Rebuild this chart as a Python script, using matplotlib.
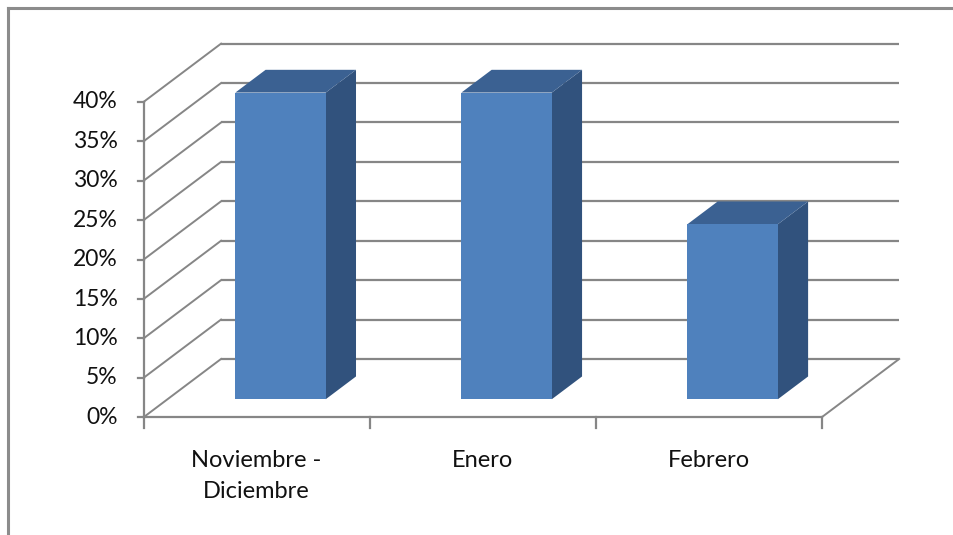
import matplotlib
matplotlib.use("Agg")
import matplotlib.pyplot as plt
from matplotlib.patches import Polygon

# data
categories = ["Noviembre -\nDiciembre", "Enero", "Febrero"]
values = [38.9, 38.9, 22.2]
y_ticks = [0, 5, 10, 15, 20, 25, 30, 35, 40]
y_labels = ["0%", "5%", "10%", "15%", "20%", "25%", "30%", "35%", "40%"]

# oblique 3d look: depth 0 = front plane, depth 1 = back wall
DX = 0.343   # x shift (category units) for full depth
DZ = 7.4     # y shift (percent units) for full depth
YMAX = 40

GRID = "#868686"
FRONT = "#4f81bd"
SIDE = "#31527d"
TOP = "#3b6192"
TEXT = "#111111"

plt.rcParams["font.family"] = ["Lato", "DejaVu Sans"]


def proj(x, z, d):
    return (x + d * DX, z + d * DZ)


fig = plt.figure(figsize=(9.54, 5.35), dpi=100)
ax = fig.add_axes([0, 0, 1, 1])
px_x = 226.05   # pixels per category
px_y = 7.883    # pixels per percent
x0, y0 = 143.5, 417.3
ax.set_xlim(-x0 / px_x, (954 - x0) / px_x)
ax.set_ylim(-(535 - y0) / px_y, y0 / px_y)
ax.axis("off")

n = len(categories)

# back wall gridlines and side wall diagonals
for t in y_ticks:
    xa, ya = proj(0, t, 1)
    xb, yb = proj(n, t, 1)
    ax.plot([xa, xb], [ya, yb], color=GRID, lw=1.6, solid_capstyle="butt")
    fx, fy = proj(0, t, 0)
    ax.plot([fx, xa], [fy, ya], color=GRID, lw=1.4)

# floor edges
ax.plot([0, n], [0, 0], color=GRID, lw=1.6)
bx, by = proj(n, 0, 1)
ax.plot([n, bx], [0, by], color=GRID, lw=1.4)

# vertical axis with ticks
ax.plot([0, 0], [0, YMAX], color=GRID, lw=1.6)
tick_len_x = 6 / px_x
for t, lab in zip(y_ticks, y_labels):
    ax.plot([-tick_len_x, 0], [t, t], color=GRID, lw=1.6)
    ax.text(-26 / px_x, t, lab, ha="right", va="center", fontsize=16.5, color=TEXT)

# category ticks and labels
tick_len_y = 11 / px_y
for i in range(n + 1):
    ax.plot([i, i], [0, -tick_len_y], color=GRID, lw=1.6)
for i, lab in enumerate(categories):
    ax.text(i + 0.5, -33 / px_y, lab, ha="center", va="top", fontsize=17,
            color=TEXT, linespacing=1.55)

# bars
bw = 0.40
d0, d1 = 0.31, 0.70
for i, v in enumerate(values):
    xl = i + 0.5 - bw / 2
    xr = i + 0.5 + bw / 2
    front = [proj(xl, 0, d0), proj(xr, 0, d0), proj(xr, v, d0), proj(xl, v, d0)]
    side = [proj(xr, 0, d0), proj(xr, 0, d1), proj(xr, v, d1), proj(xr, v, d0)]
    top = [proj(xl, v, d0), proj(xr, v, d0), proj(xr, v, d1), proj(xl, v, d1)]
    ax.add_patch(Polygon(side, closed=True, facecolor=SIDE, edgecolor="none", zorder=3))
    ax.add_patch(Polygon(top, closed=True, facecolor=TOP, edgecolor="none", zorder=3))
    ax.add_patch(Polygon(front, closed=True, facecolor=FRONT, edgecolor="none", zorder=4))

# outer chart border (top and left edges visible)
fig.add_artist(plt.Line2D([8 / 954, 1], [1 - 8 / 535, 1 - 8 / 535], color="#8c8c8c", lw=2.2))
fig.add_artist(plt.Line2D([8 / 954, 8 / 954], [0, 1 - 8 / 535], color="#8c8c8c", lw=2.2))

fig.savefig("out.png", dpi=100, facecolor="white")
